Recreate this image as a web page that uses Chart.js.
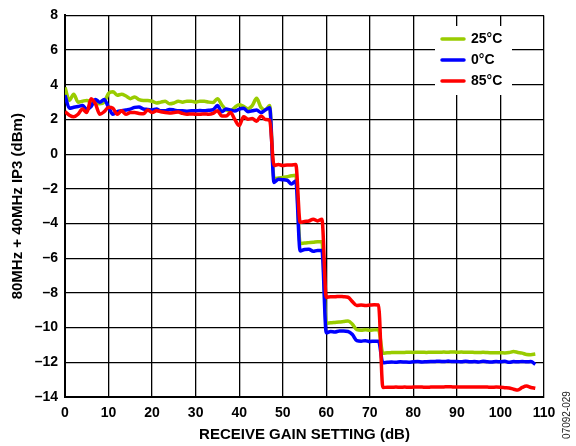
<!DOCTYPE html>
<html>
<head>
<meta charset="utf-8">
<script src="https://cdn.jsdelivr.net/npm/chart.js@4.4.0/dist/chart.umd.min.js"></script>
<style>
  html, body { margin: 0; padding: 0; background: #fff; }
  #wrap { width: 576px; height: 446px; position: relative; }
</style>
</head>
<body>
<div id="wrap"><canvas id="c" width="576" height="446"></canvas></div>
<script>
// Receive gain setting (dB)
const gainSettings = [];
for (let g = 0; g <= 108; g++) gainSettings.push(g);

const xTicks = [0, 10, 20, 30, 40, 50, 60, 70, 80, 90, 100, 110];
const yTicks = [-14, -12, -10, -8, -6, -4, -2, 0, 2, 4, 6, 8];

const seriesLabels = ['25°C', '0°C', '85°C'];

const ip3_25C = [
  3.85, 3.1, 3.45, 3.0, 3.05, 3.1, 3.0, 2.95, 2.9, 3.0,
  3.5, 3.6, 3.4, 3.45, 3.35, 3.2, 3.3, 3.15, 3.1, 3.1,
  3.05, 2.95, 3.0, 3.05, 2.9, 2.95, 3.05, 3.0, 3.05, 3.05,
  3.0, 3.05, 3.05, 3.0, 2.98, 3.2, 2.85, 2.55, 2.5, 2.7,
  2.85, 2.75, 2.62, 2.8, 3.22, 2.7, 2.55, 2.8, -1.4, -1.38,
  -1.35, -1.3, -1.25, -1.22, -5.15, -5.12, -5.1, -5.08, -5.05, -5.05,
  -9.75, -9.72, -9.7, -9.68, -9.65, -9.62, -9.8, -10.12, -10.15, -10.12,
  -10.15, -10.13, -10.12, -11.48, -11.45, -11.44, -11.43, -11.44, -11.43, -11.42,
  -11.43, -11.42, -11.42, -11.43, -11.42, -11.42, -11.42, -11.41, -11.42, -11.40,
  -11.42, -11.41, -11.42, -11.42, -11.43, -11.44, -11.42, -11.44, -11.45, -11.45,
  -11.45, -11.46, -11.44, -11.38, -11.43, -11.47, -11.55, -11.56, -11.52
];

const ip3_0C = [
  3.4, 2.65, 2.7, 2.75, 2.8, 2.6, 2.75, 3.15, 3.0, 3.15,
  2.7, 2.3, 2.45, 2.5, 2.55, 2.6, 2.7, 2.72, 2.6, 2.58,
  2.55, 2.6, 2.5, 2.5, 2.58, 2.55, 2.5, 2.5, 2.48, 2.5,
  2.5, 2.52, 2.5, 2.53, 2.56, 2.8, 2.45, 2.6, 2.55, 2.49,
  2.6, 2.65, 2.45, 2.5, 2.55, 2.4, 2.55, 2.68, -1.63, -1.45,
  -1.48, -1.5, -1.72, -1.55, -5.58, -5.5, -5.48, -5.6, -5.55, -5.55,
  -10.3, -10.22, -10.25, -10.2, -10.2, -10.22, -10.4, -10.75, -10.78, -10.75,
  -10.8, -10.78, -10.78, -12.03, -12.0, -11.98, -12.0, -11.97, -11.98, -11.99,
  -11.97, -11.96, -11.98, -11.97, -11.96, -11.95, -11.94, -11.96, -11.93, -11.96,
  -11.95, -11.97, -11.94, -11.97, -11.96, -11.98, -11.94, -11.97, -11.98, -11.96,
  -11.97, -11.94, -12.0, -11.96, -11.97, -11.95, -11.97, -11.96, -12.12
];

const ip3_85C = [
  2.45, 2.25, 2.15, 2.3, 2.6, 2.4, 3.2, 2.9, 2.3, 2.45,
  2.7, 2.65, 2.3, 2.5, 2.3, 2.4, 2.4, 2.35, 2.33, 2.55,
  2.4, 2.5, 2.45, 2.4, 2.38, 2.4, 2.43, 2.35, 2.3, 2.32,
  2.3, 2.3, 2.32, 2.3, 2.35, 2.5, 2.2, 2.2, 2.4, 2.0,
  1.65, 2.15, 2.02, 2.05, 1.9, 2.2, 2.0, 1.95, -0.65, -0.6,
  -0.65, -0.62, -0.62, -0.6, -3.93, -3.88, -3.85, -3.75, -3.85, -3.75,
  -8.25, -8.22, -8.22, -8.2, -8.22, -8.25, -8.5, -8.72, -8.7, -8.72,
  -8.7, -8.68, -8.7, -13.45, -13.44, -13.44, -13.43, -13.44, -13.43, -13.44,
  -13.43, -13.42, -13.43, -13.44, -13.43, -13.42, -13.43, -13.42, -13.41, -13.42,
  -13.43, -13.42, -13.43, -13.42, -13.42, -13.43, -13.42, -13.43, -13.44, -13.43,
  -13.44, -13.46, -13.48, -13.55, -13.6, -13.45, -13.37, -13.45, -13.5
];

const colors = ['#99cc00', '#0000ff', '#ff0000'];
const FONT = 'Arial, "Liberation Sans", Helvetica, sans-serif';

function toPoints(xs, ys) { return xs.map((x, i) => ({ x: x, y: ys[i] })); }

const fmt = v => (v < 0 ? '\u2013' + Math.abs(v) : String(v));

const legendPlugin = {
  id: 'insideLegend',
  beforeDatasetsDraw(chart) {
    const ctx = chart.ctx;
    ctx.save();
    ctx.fillStyle = '#fff';
    ctx.fillRect(435, 26, 77, 69);
    ctx.restore();
  },
  afterDatasetsDraw(chart) {
    const ctx = chart.ctx;
    ctx.save();
    const rows = [39, 60, 81];
    chart.data.datasets.forEach((ds, i) => {
      const y = rows[i];
      ctx.strokeStyle = ds.borderColor;
      ctx.lineWidth = 3.5;
      ctx.lineCap = 'round';
      ctx.beginPath();
      ctx.moveTo(442, y);
      ctx.lineTo(464, y);
      ctx.stroke();
      ctx.fillStyle = '#000';
      ctx.font = 'bold 14px ' + FONT;
      ctx.textAlign = 'left';
      ctx.textBaseline = 'middle';
      ctx.fillText(ds.label, 471, y + 0.5);
    });
    ctx.restore();
  },
  afterDraw(chart) {
    const ctx = chart.ctx;
    ctx.save();
    ctx.translate(567, 415);
    ctx.rotate(-Math.PI / 2);
    ctx.fillStyle = '#222';
    ctx.font = '10px ' + FONT;
    ctx.textAlign = 'center';
    ctx.textBaseline = 'middle';
    ctx.fillText('07092-029', 0, 0);
    ctx.restore();
  }
};

const datasets = [ip3_25C, ip3_0C, ip3_85C].map((vals, i) => ({
  label: seriesLabels[i],
  data: toPoints(gainSettings, vals),
  borderColor: colors[i],
  backgroundColor: colors[i],
  borderWidth: 3.5,
  pointRadius: 0,
  tension: 0.3,
  cubicInterpolationMode: 'monotone',
  fill: false,
  order: 2 - i
}));

new Chart(document.getElementById('c'), {
  type: 'line',
  data: { datasets: datasets },
  options: {
    responsive: false,
    animation: false,
    devicePixelRatio: 1,
    layout: { padding: { top: 14, right: 32, left: 0, bottom: 0 } },
    plugins: { legend: { display: false }, tooltip: { enabled: false } },
    scales: {
      x: {
        type: 'linear',
        min: 0, max: 110,
        afterBuildTicks: s => { s.ticks = xTicks.map(v => ({ value: v })); },
        afterFit: s => { s.height = 49; },
        grid: { color: '#000', lineWidth: 1.3, drawTicks: false },
        border: { color: '#000', width: 2 },
        ticks: { color: '#000', padding: 8, font: { family: FONT, size: 14, weight: 'bold' }, callback: v => fmt(v), maxRotation: 0 },
        title: { display: true, text: 'RECEIVE GAIN SETTING (dB)', color: '#000', font: { family: FONT, size: 15, weight: 'bold' }, padding: { top: 0, bottom: 2 } }
      },
      y: {
        type: 'linear',
        min: -14, max: 8,
        afterBuildTicks: s => { s.ticks = yTicks.map(v => ({ value: v })); },
        afterFit: s => { s.width = 65; },
        grid: { color: '#000', lineWidth: 1.3, drawTicks: false },
        border: { color: '#000', width: 2 },
        ticks: { color: '#000', padding: 7, font: { family: FONT, size: 14, weight: 'bold' }, callback: v => fmt(v) },
        title: { display: true, text: '80MHz + 40MHz IP3 (dBm)', color: '#000', font: { family: FONT, size: 15, weight: 'bold' }, padding: { top: 9, bottom: 0 } }
      }
    }
  },
  plugins: [legendPlugin]
});
</script>
</body>
</html>
